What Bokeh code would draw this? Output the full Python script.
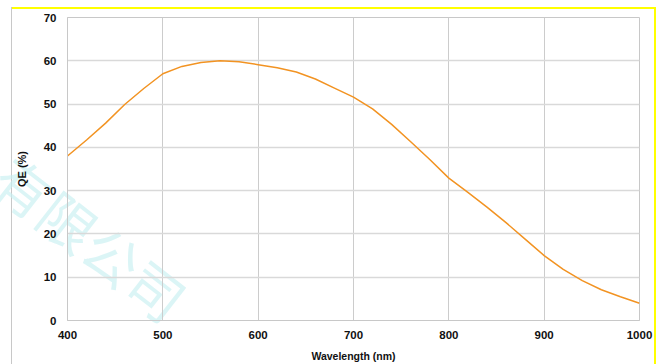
from bokeh.plotting import figure
from bokeh.models import Range1d, FixedTicker, Div
from bokeh.layouts import column
from bokeh.embed import file_html
from bokeh.resources import INLINE

wavelength = [400, 420, 440, 460, 480, 500, 520, 540, 560, 580, 600, 620, 640, 660, 680,
              700, 720, 740, 760, 780, 800, 820, 840, 860, 880, 900, 920, 940, 960, 980, 1000]
qe = [38.0, 41.7, 45.6, 49.9, 53.6, 57.0, 58.7, 59.6, 60.0, 59.8, 59.1, 58.4, 57.4, 55.8, 53.7,
      51.6, 48.9, 45.3, 41.3, 37.2, 32.9, 29.6, 26.2, 22.6, 18.8, 15.0, 11.8, 9.2, 7.1, 5.5, 4.0]
x_ticks = [400, 500, 600, 700, 800, 900, 1000]
y_ticks = [0, 10, 20, 30, 40, 50, 60, 70]
x_title = "Wavelength (nm)"
y_title = "QE (%)"
watermark = "有限公司"

p = figure(frame_width=572, frame_height=304,
           min_border_left=67, min_border_right=21, min_border_top=17, min_border_bottom=43,
           x_range=Range1d(400, 1000), y_range=Range1d(0, 70),
           output_backend="svg", toolbar_location=None,
           background_fill_color=None, border_fill_color=None)

p.outline_line_color = "#c8c8c8"
p.outline_line_width = 1

p.line(wavelength, qe, line_color="#f29322", line_width=1.5)

for ax in (p.xaxis[0], p.yaxis[0]):
    ax.axis_line_color = "#c8c8c8"
    ax.major_tick_line_color = None
    ax.minor_tick_line_color = None
    ax.major_tick_out = 0
    ax.major_tick_in = 0
    ax.major_label_text_font = "Liberation Sans"
    ax.major_label_text_font_style = "bold"
    ax.major_label_text_font_size = "11.5px"
    ax.major_label_text_color = "#111111"
    ax.axis_label_text_font = "Liberation Sans"
    ax.axis_label_text_font_style = "bold"
    ax.axis_label_text_color = "#111111"

p.xaxis.axis_label_text_font_size = "10.5px"
p.yaxis.axis_label_text_font_size = "11px"
p.xaxis.major_label_standoff = 10
p.yaxis.major_label_standoff = 11
p.xaxis.ticker = FixedTicker(ticks=x_ticks)
p.yaxis.ticker = FixedTicker(ticks=y_ticks)
p.xaxis.axis_label = x_title
p.yaxis.axis_label = y_title
p.xaxis.axis_label_standoff = 8
p.yaxis.axis_label_standoff = 13

p.xgrid.grid_line_color = "#cccccc"
p.xgrid.grid_line_width = 1
p.ygrid.grid_line_color = "#d9d9d9"
p.ygrid.grid_line_width = 1.5

# faint watermark drawn beneath the (transparent) figure
bg_html = (
    '<div style="position:absolute; left:86px; top:233px; '
    'transform:translate(-50%,-50%) rotate(38deg); white-space:nowrap; '
    "font-family:'Noto Sans CJK SC'; font-size:56px; line-height:1; "
    'color:#c9f0f2; opacity:0.65;">' + watermark + '</div>'
)
bg = Div(text=bg_html, width=660, height=364,
         styles={"position": "absolute", "left": "0px", "top": "0px", "z-index": "-1",
                 "pointer-events": "none", "overflow": "visible"})

# chart box edges: grey left line, yellow top and right lines
shadows = ", ".join([
    "inset -4px 0 0 #ffffff",
    "inset 11px 0 0 #ffffff",
    "inset 0 7px 0 #ffffff",
    "inset 12px 0 0 #c8c8c8",
    "inset -6px 0 0 #ffff00",
    "inset 0 9px 0 #ffff00",
])

layout = column(p, bg, width=660, height=364,
                styles={"position": "relative", "z-index": "0",
                        "background-color": "white", "box-shadow": shadows})

open("out.html", "w").write(file_html(layout, INLINE))
